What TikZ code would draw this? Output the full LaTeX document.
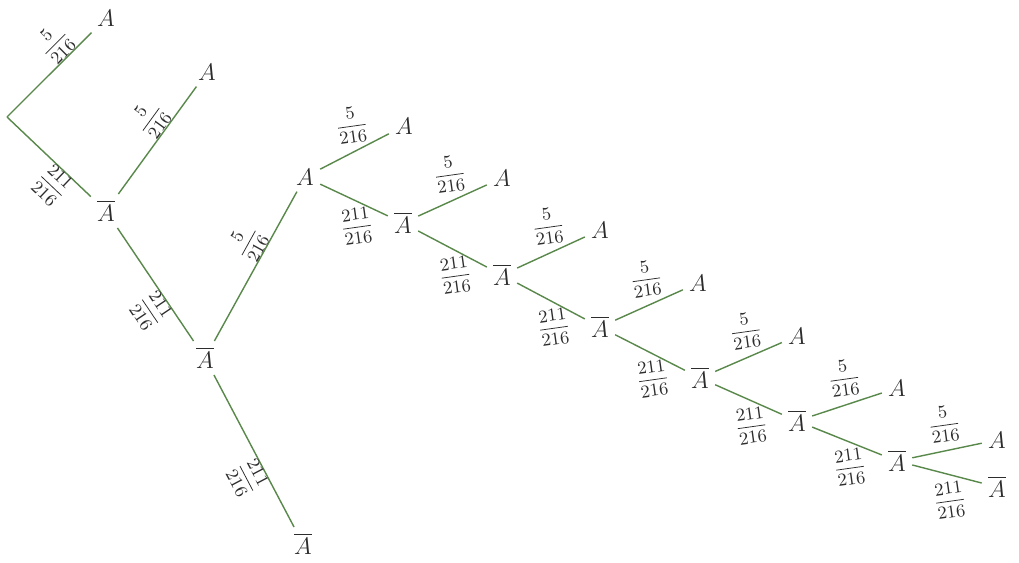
\documentclass[tikz,border=0pt]{standalone}
\usepackage{amsmath}
\definecolor{lc}{RGB}{88,136,74}
\definecolor{tc}{RGB}{45,45,45}
\begin{document}
\begin{tikzpicture}[x=0.5pt,y=-0.5pt,
  br/.style={draw=lc, line width=0.7pt},
  nd/.style={inner sep=3pt, text=tc, font=\fontsize{11.5}{13}\selectfont},
  lb/.style={font=\fontsize{9}{11}\selectfont, text=tc, inner sep=1pt},
  sl/.style={lb, sloped, inner sep=0pt},
  up/.style={lb, above=3pt, rotate=8},
  dn/.style={lb, below=3pt, rotate=8},
]
\useasboundingbox[fill=white] (0,0) rectangle (1019,563);
\coordinate (r) at (7,117);
\node[nd] (a1) at (106,18) {$A$};
\node[nd] (b1) at (106,211) {$\overline{A}$};
\node[nd] (a2) at (207,72) {$A$};
\node[nd] (b2) at (205,358) {$\overline{A}$};
\node[nd] (a3) at (305,177) {$A$};
\node[nd] (b3) at (303,544) {$\overline{A}$};
\node[nd] (a4) at (404,126) {$A$};
\node[nd] (b4) at (403,223) {$\overline{A}$};
\node[nd] (a5) at (502,178) {$A$};
\node[nd] (b5) at (502,275) {$\overline{A}$};
\node[nd] (a6) at (600,230) {$A$};
\node[nd] (b6) at (600,327) {$\overline{A}$};
\node[nd] (a7) at (698,283) {$A$};
\node[nd] (b7) at (700,378) {$\overline{A}$};
\node[nd] (a8) at (797,336) {$A$};
\node[nd] (b8) at (797,421) {$\overline{A}$};
\node[nd] (a9) at (897,388) {$A$};
\node[nd] (b9) at (897,461) {$\overline{A}$};
\node[nd] (a10) at (997,440) {$A$};
\node[nd] (b10) at (997,487) {$\overline{A}$};

\draw[br] (r) -- node[sl,above,pos=0.72]{$\dfrac{5}{216}$} (a1);
\draw[br] (r) -- node[sl,below,pos=0.69]{$\dfrac{211}{216}$} (b1);
\draw[br] (b1) -- node[sl,above,pos=0.6]{$\dfrac{5}{216}$} (a2);
\draw[br] (b1) -- node[sl,below,pos=0.64]{$\dfrac{211}{216}$} (b2);
\draw[br] (b2) -- node[sl,above,pos=0.6]{$\dfrac{5}{216}$} (a3);
\draw[br] (b2) -- node[sl,below,pos=0.62]{$\dfrac{211}{216}$} (b3);
\draw[br] (a3) -- node[up]{$\dfrac{5}{216}$} (a4);
\draw[br] (a3) -- node[dn]{$\dfrac{211}{216}$} (b4);
\draw[br] (b4) -- node[up]{$\dfrac{5}{216}$} (a5);
\draw[br] (b4) -- node[dn]{$\dfrac{211}{216}$} (b5);
\draw[br] (b5) -- node[up]{$\dfrac{5}{216}$} (a6);
\draw[br] (b5) -- node[dn]{$\dfrac{211}{216}$} (b6);
\draw[br] (b6) -- node[up]{$\dfrac{5}{216}$} (a7);
\draw[br] (b6) -- node[dn]{$\dfrac{211}{216}$} (b7);
\draw[br] (b7) -- node[up]{$\dfrac{5}{216}$} (a8);
\draw[br] (b7) -- node[dn]{$\dfrac{211}{216}$} (b8);
\draw[br] (b8) -- node[up]{$\dfrac{5}{216}$} (a9);
\draw[br] (b8) -- node[dn]{$\dfrac{211}{216}$} (b9);
\draw[br] (b9) -- node[up]{$\dfrac{5}{216}$} (a10);
\draw[br] (b9) -- node[dn]{$\dfrac{211}{216}$} (b10);
\end{tikzpicture}
\end{document}
